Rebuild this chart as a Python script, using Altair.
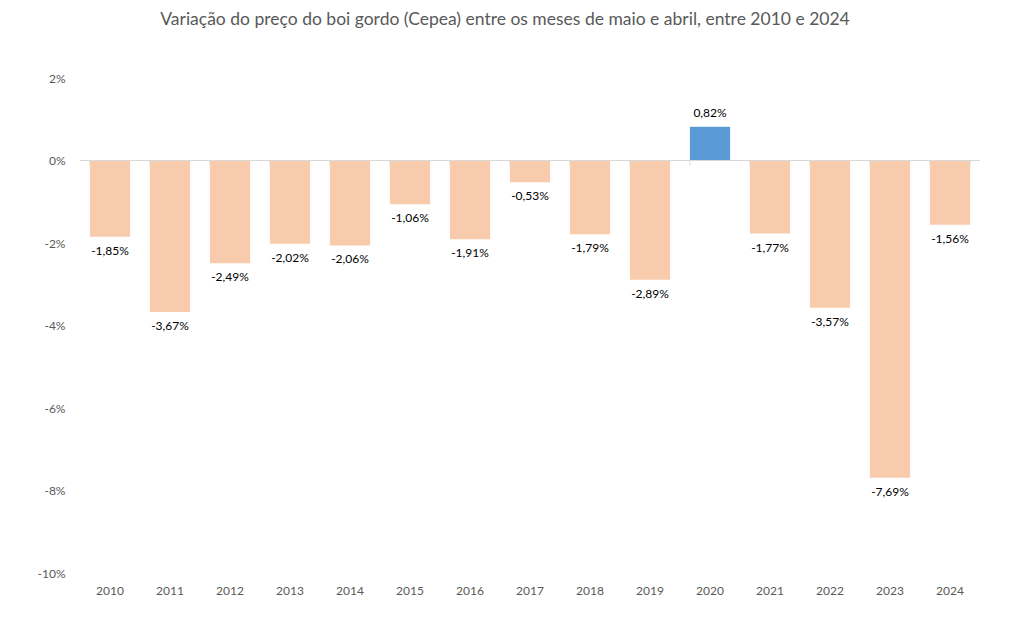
import altair as alt
import pandas as pd

years = ["2010", "2011", "2012", "2013", "2014", "2015", "2016", "2017", "2018", "2019", "2020", "2021", "2022", "2023", "2024"]
values = [-1.85, -3.67, -2.49, -2.02, -2.06, -1.06, -1.91, -0.53, -1.79, -2.89, 0.82, -1.77, -3.57, -7.69, -1.56]

FONT = "Lato"

df = pd.DataFrame({"year": years, "value": values})
df["label"] = [f"{v:.2f}%".replace(".", ",") for v in values]
df["sign"] = ["pos" if v >= 0 else "neg" for v in values]

x_enc = alt.X("year:N", sort=years, title=None,
              scale=alt.Scale(paddingInner=0.33, paddingOuter=0.165),
              axis=alt.Axis(labelAngle=0, ticks=False, domain=False, labelPadding=12,
                            labelFont=FONT, labelFontSize=12, labelColor="#595959"))
y_scale = alt.Scale(domain=[-10, 2], nice=False)

base = alt.Chart(df)

bars = base.mark_bar().encode(
    x=x_enc,
    y=alt.Y("value:Q", scale=y_scale, title=None,
            axis=alt.Axis(values=[-10, -8, -6, -4, -2, 0, 2], labelExpr="datum.value + '%'",
                          grid=False, ticks=False, domain=False, labelPadding=15,
                          labelFont=FONT, labelFontSize=12, labelColor="#595959")),
    y2=alt.datum(0),
    color=alt.Color("sign:N", scale=alt.Scale(domain=["neg", "pos"], range=["#F8CBAD", "#5B9BD5"]), legend=None),
)

zero = base.mark_rule(color="#D9D9D9", strokeWidth=1).encode(
    x=alt.value(0), x2=alt.value(900), y=alt.datum(0)
)

ticks_start = base.mark_rule(color="#D9D9D9", strokeWidth=1).encode(
    x=alt.X("year:N", sort=years, bandPosition=0),
    y=alt.datum(0), y2=alt.datum(-0.12)
)
ticks_end = base.transform_filter(alt.datum.year == years[-1]).mark_rule(color="#D9D9D9", strokeWidth=1).encode(
    x=alt.X("year:N", sort=years, bandPosition=1),
    y=alt.datum(0), y2=alt.datum(-0.12)
)

neg_text = base.transform_filter(alt.datum.value < 0).mark_text(
    baseline="top", dy=9, font=FONT, fontSize=12, color="#000000"
).encode(x=alt.X("year:N", sort=years), y="value:Q", text="label:N")

pos_text = base.transform_filter(alt.datum.value >= 0).mark_text(
    baseline="bottom", dy=-7, font=FONT, fontSize=12, color="#000000"
).encode(x=alt.X("year:N", sort=years), y="value:Q", text="label:N")

chart = alt.layer(bars, zero, ticks_start, ticks_end, neg_text, pos_text).properties(
    width=900, height=495,
    autosize=alt.AutoSizeParams(type="none"),
    padding={"left": 72, "top": 70, "right": 25, "bottom": 40},
    title=alt.TitleParams(
        "Variação do preço do boi gordo (Cepea) entre os meses de maio e abril, entre 2010 e 2024",
        font=FONT, fontSize=17.5, fontWeight="normal", color="#595959", anchor="middle",
        offset=44, dx=-25
    ),
).configure_view(stroke=None)

chart.save("out.html", embed_options={"renderer": "svg", "actions": False})
